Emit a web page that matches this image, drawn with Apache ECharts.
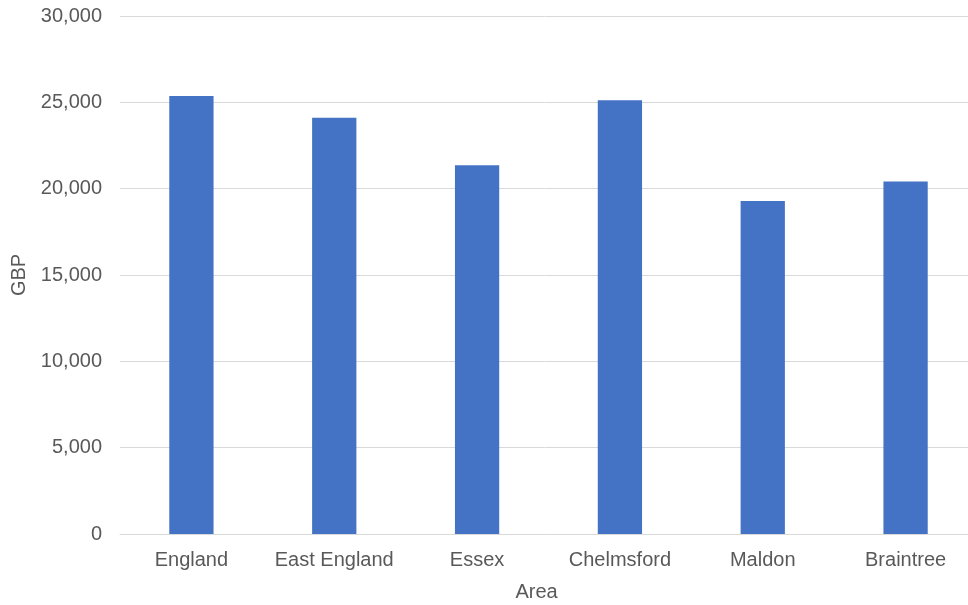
<!DOCTYPE html>
<html>
<head>
<meta charset="utf-8">
<script src="https://cdn.jsdelivr.net/npm/echarts@6/dist/echarts.min.js"></script>
<style>
  html, body { margin: 0; padding: 0; background: #fff; }
  #chart { width: 968px; height: 605px; }
</style>
</head>
<body>
<div id="chart"></div>
<script>
// Areas and their values in GBP
const areas = ['England', 'East England', 'Essex', 'Chelmsford', 'Maldon', 'Braintree'];
const values = [25370, 24110, 21350, 25120, 19290, 20420];

const font = 'Liberation Sans, Arial, sans-serif';
const textColor = '#595959';

const chart = echarts.init(document.getElementById('chart'), null, { renderer: 'canvas' });
chart.setOption({
  animation: false,
  // plot area runs slightly past the right edge of the canvas
  grid: { left: 120, width: 857, top: 16, bottom: 71, containLabel: false, outerBoundsMode: 'none' },
  xAxis: {
    type: 'category',
    data: areas,
    name: 'Area',
    nameLocation: 'middle',
    nameGap: 48,
    // right padding nudges the title left, centring it on the visible width
    nameTextStyle: { fontFamily: font, fontSize: 20, color: textColor, padding: [0, 24, 0, 0] },
    axisLine: { lineStyle: { color: '#d9d9d9', width: 1 } },
    axisTick: { show: false },
    axisLabel: { fontFamily: font, fontSize: 20, color: textColor, margin: 16, interval: 0 }
  },
  yAxis: {
    type: 'value',
    min: 0,
    max: 30000,
    interval: 5000,
    name: 'GBP',
    nameLocation: 'middle',
    nameGap: 84,
    nameTextStyle: { fontFamily: font, fontSize: 20, color: textColor },
    axisLine: { show: false },
    axisTick: { show: false },
    splitLine: { lineStyle: { color: '#d9d9d9', width: 1 } },
    axisLabel: {
      fontFamily: font, fontSize: 20, color: textColor, margin: 18,
      formatter: v => v.toLocaleString('en-US')
    }
  },
  series: [{
    type: 'bar',
    data: values,
    barWidth: '31%',
    itemStyle: { color: '#4472c4' }
  }]
});
</script>
</body>
</html>
